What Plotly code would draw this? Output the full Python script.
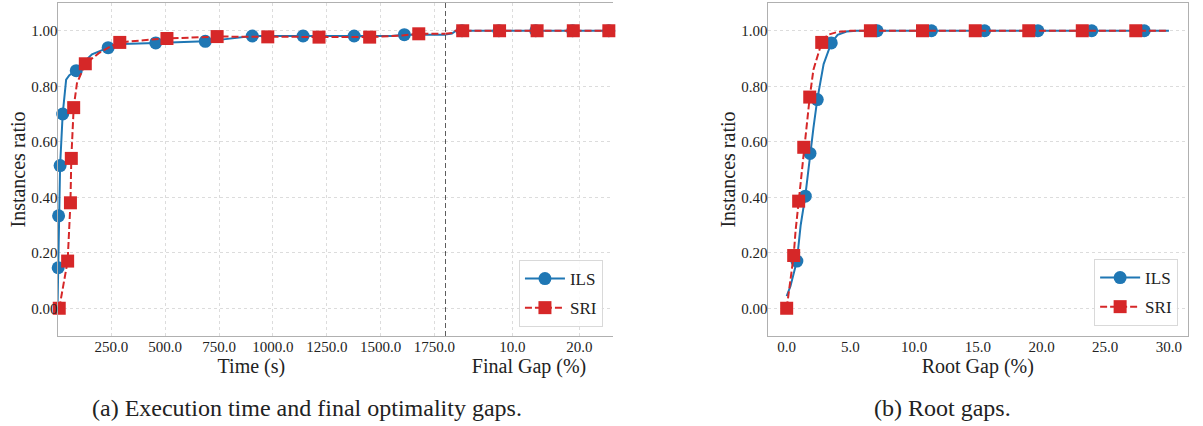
import plotly.graph_objects as go

# ---------------- data ----------------
# (a) execution time (s) part
ILS_TIME_T = [0, 3, 5, 12, 24, 32, 40, 55, 87, 120, 160, 235, 300, 456, 686, 760, 904, 1140, 1377, 1550, 1610, 1700, 1800]
ILS_TIME_Y = [0, 0.146, 0.333, 0.514, 0.70, 0.77, 0.824, 0.84, 0.856, 0.885, 0.915, 0.939, 0.952, 0.956, 0.962, 0.968, 0.981, 0.981, 0.981, 0.981, 0.986, 0.986, 0.986]
ILS_TIME_MARK_T = [3, 5, 12, 24, 87, 235, 456, 686, 904, 1140, 1377, 1610]
ILS_TIME_MARK_Y = [0.146, 0.333, 0.514, 0.70, 0.856, 0.939, 0.956, 0.962, 0.981, 0.981, 0.981, 0.986]

SRI_TIME_T = [8, 47, 60, 64, 75, 90, 129, 193, 250, 289, 400, 508, 741, 976, 1214, 1449, 1600, 1677, 1800]
SRI_TIME_Y = [0, 0.17, 0.38, 0.54, 0.723, 0.81, 0.881, 0.92, 0.945, 0.958, 0.966, 0.972, 0.979, 0.978, 0.977, 0.977, 0.983, 0.989, 0.989]
SRI_TIME_MARK_T = [8, 47, 60, 64, 75, 129, 289, 508, 741, 976, 1214, 1449, 1677]
SRI_TIME_MARK_Y = [0, 0.17, 0.38, 0.54, 0.723, 0.881, 0.958, 0.972, 0.979, 0.978, 0.977, 0.977, 0.989]

# (a) final gap (%) part
ILS_GAP_X = [0, 1.0, 1.6, 25]
ILS_GAP_Y = [0.986, 0.99, 1.0, 1.0]
ILS_GAP_MARK_X = [2.5, 8.0, 13.5, 19.0, 24.4]
ILS_GAP_MARK_Y = [1.0, 1.0, 1.0, 1.0, 1.0]
SRI_GAP_X = [0, 1.0, 1.5, 25]
SRI_GAP_Y = [0.989, 0.992, 1.0, 1.0]
SRI_GAP_MARK_X = [2.6, 8.1, 13.7, 19.1, 24.4]
SRI_GAP_MARK_Y = [1.0, 1.0, 1.0, 1.0, 1.0]

# (b) root gap (%)
ILS_ROOT_X = [0, 0.3, 0.8, 1.1, 1.46, 1.83, 2.1, 2.4, 2.9, 3.5, 4.0, 4.7, 5.5, 30]
ILS_ROOT_Y = [0.044, 0.08, 0.17, 0.30, 0.404, 0.558, 0.65, 0.752, 0.88, 0.956, 0.985, 0.997, 1.0, 1.0]
ILS_ROOT_MARK_X = [0.8, 1.46, 1.83, 2.4, 3.5, 7.1, 11.36, 15.53, 19.72, 23.94, 28.06]
ILS_ROOT_MARK_Y = [0.17, 0.404, 0.558, 0.752, 0.956, 1.0, 1.0, 1.0, 1.0, 1.0, 1.0]
SRI_ROOT_X = [0, 0.55, 0.7, 0.94, 1.34, 1.81, 2.1, 2.75, 3.2, 4.0, 5.0, 30]
SRI_ROOT_Y = [0, 0.19, 0.28, 0.386, 0.58, 0.761, 0.86, 0.958, 0.985, 0.996, 1.0, 1.0]
SRI_ROOT_MARK_X = [0, 0.55, 0.94, 1.34, 1.81, 2.75, 6.57, 10.66, 14.8, 19.0, 23.2, 27.4]
SRI_ROOT_MARK_Y = [0, 0.19, 0.386, 0.58, 0.761, 0.958, 1.0, 1.0, 1.0, 1.0, 1.0, 1.0]

TIME_TICKS = [250, 500, 750, 1000, 1250, 1500, 1750]
GAP_TICKS = [10, 20]
ROOT_TICKS = [0, 5, 10, 15, 20, 25, 30]
Y_TICKS = [0, 0.2, 0.4, 0.6, 0.8, 1.0]

SERIES = ["ILS", "SRI"]
CAPTION_A = "(a) Execution time and final optimality gaps."
CAPTION_B = "(b) Root gaps."

# ---------------- style ----------------
W, H = 1203, 426
BLUE = "#1f77b4"
RED = "#d62728"
FONT = "Liberation Serif"
TXT = "#222222"
GRID = "#dcdcdc"
FRAME = "#b0b0b0"
MS = 13
RED_DASH = "7px,3px"

def px_x(p):
    return p / W

def px_y(p):
    return (H - p) / H

YDOM = [px_y(336), px_y(3)]

fig = go.Figure()

def add_series(xs, ys, mx, my, color, dash, symbol, xa, ya):
    fig.add_trace(go.Scatter(x=xs, y=ys, mode="lines", xaxis=xa, yaxis=ya,
                             line=dict(color=color, width=2, dash=dash),
                             showlegend=False, hoverinfo="skip"))
    fig.add_trace(go.Scatter(x=mx, y=my, mode="markers", xaxis=xa, yaxis=ya,
                             marker=dict(color=color, size=MS, symbol=symbol, line=dict(width=0)),
                             showlegend=False, cliponaxis=False, hoverinfo="skip"))

# left panel
add_series(ILS_TIME_T, ILS_TIME_Y, ILS_TIME_MARK_T, ILS_TIME_MARK_Y, BLUE, "solid", "circle", "x", "y")
add_series(ILS_GAP_X, ILS_GAP_Y, ILS_GAP_MARK_X, ILS_GAP_MARK_Y, BLUE, "solid", "circle", "x2", "y")
add_series(SRI_TIME_T, SRI_TIME_Y, SRI_TIME_MARK_T, SRI_TIME_MARK_Y, RED, RED_DASH, "square", "x", "y")
add_series(SRI_GAP_X, SRI_GAP_Y, SRI_GAP_MARK_X, SRI_GAP_MARK_Y, RED, RED_DASH, "square", "x2", "y")
# right panel
add_series(ILS_ROOT_X, ILS_ROOT_Y, ILS_ROOT_MARK_X, ILS_ROOT_MARK_Y, BLUE, "solid", "circle", "x3", "y3")
add_series(SRI_ROOT_X, SRI_ROOT_Y, SRI_ROOT_MARK_X, SRI_ROOT_MARK_Y, RED, RED_DASH, "square", "x3", "y3")

# legend entries
for legend_id, xa, ya in [("legend", "x", "y"), ("legend2", "x3", "y3")]:
    for name, color, dash, symbol in [(SERIES[0], BLUE, "solid", "circle"), (SERIES[1], RED, RED_DASH, "square")]:
        fig.add_trace(go.Scatter(x=[None], y=[None], mode="lines+markers", name=name,
                                 xaxis=xa, yaxis=ya, legend=legend_id, legendgroup=legend_id + name,
                                 line=dict(color=color, width=2, dash=dash),
                                 marker=dict(color=color, size=MS, symbol=symbol, line=dict(width=0))))

tickfont = dict(family=FONT, size=15, color=TXT)
titlefont = dict(family=FONT, size=20, color=TXT)

common_x = dict(showline=True, linecolor=FRAME, linewidth=1, mirror=True, zeroline=False,
                tickfont=tickfont, tickformat=".1f", ticks="", ticklabelstandoff=-3,
                gridcolor=GRID, griddash="dot", gridwidth=1)
common_y = dict(range=[-0.1, 1.1], tickvals=Y_TICKS, tickformat=".2f", zeroline=False,
                tickfont=tickfont, ticks="", gridcolor=GRID, griddash="dot", gridwidth=1,
                domain=YDOM)

legend_style = dict(bgcolor="rgba(255,255,255,0.85)", bordercolor="#d9d9d9", borderwidth=1,
                    font=dict(family=FONT, size=17, color=TXT), xanchor="right", yanchor="bottom",
                    tracegroupgap=4, itemwidth=40)

fig.update_layout(
    width=W, height=H,
    margin=dict(l=0, r=0, t=0, b=0),
    paper_bgcolor="white", plot_bgcolor="white",
    showlegend=True,
    xaxis=dict(domain=[px_x(58), px_x(449)], range=[0, 1800], tickvals=TIME_TICKS, anchor="y",
               showgrid=True, title=dict(text="Time (s)", font=titlefont, standoff=0), **common_x),
    xaxis2=dict(domain=[px_x(449), px_x(618)], range=[0, 25], tickvals=GAP_TICKS, anchor="y",
                showgrid=True, title=dict(text="Final Gap (%)", font=titlefont, standoff=0), **common_x),
    xaxis3=dict(domain=[px_x(774), px_x(1198)], range=[-1.5, 31.5], tickvals=ROOT_TICKS, anchor="y3",
                showgrid=False, title=dict(text="Root Gap (%)", font=titlefont, standoff=0), **common_x),
    yaxis=dict(anchor="x", showline=True, linecolor=FRAME, linewidth=1, mirror=False, showgrid=True,
               ticklabelstandoff=-4,
               title=dict(text="Instances ratio", font=titlefont, standoff=0), **common_y),
    yaxis4=dict(anchor="x2", overlaying="y", side="right", showline=True, linecolor=FRAME, linewidth=1,
                showgrid=True, showticklabels=False, **common_y),
    yaxis3=dict(anchor="x3", showline=True, linecolor=FRAME, linewidth=1, mirror=True, showgrid=True,
                ticklabelstandoff=-4,
                title=dict(text="Instances ratio", font=titlefont, standoff=0), **common_y),
    legend=dict(x=px_x(608), y=px_y(327), **legend_style),
    legend2=dict(x=px_x(1188), y=px_y(326), **legend_style),
    shapes=[dict(type="line", xref="x2", x0=0, x1=0, yref="y domain", y0=0, y1=1,
                 line=dict(color="black", width=1.2, dash="5px,3px"), layer="above")],
    annotations=[
        dict(text=CAPTION_A, xref="paper", yref="paper", x=px_x(310), y=px_y(408), showarrow=False,
             xanchor="center", yanchor="middle", font=dict(family=FONT, size=24, color=TXT)),
        dict(text=CAPTION_B, xref="paper", yref="paper", x=px_x(950), y=px_y(408), showarrow=False,
             xanchor="center", yanchor="middle", font=dict(family=FONT, size=24, color=TXT)),
    ],
)

fig.write_html("out.html", config={"displayModeBar": False},
               post_script="document.body.style.margin='0';document.body.style.overflow='hidden';")
